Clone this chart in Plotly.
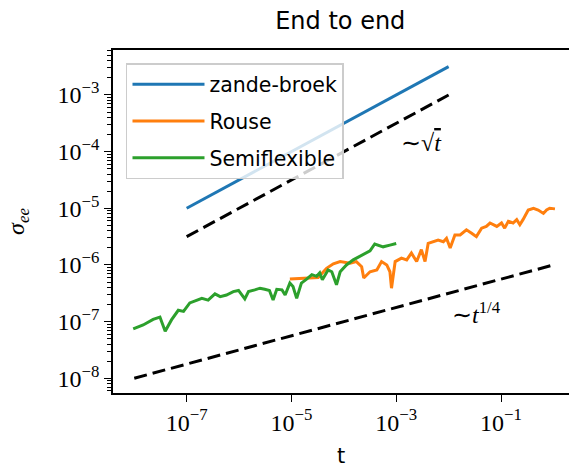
import plotly.graph_objects as go

# ---- data (noisy curves stored as log10 values) ----
zb_t = [1e-7, 1e-2]
zb_y = [1.0e-5, 3.16e-3]

sqrt_guide_t = [1e-7, 1e-2]
sqrt_guide_y = [3.16e-6, 1.0e-3]

quarter_guide_t = [1e-8, 1.0]
quarter_guide_y = [1e-8, 1e-6]

semi_log_t = [-8.02, -7.83, -7.64, -7.51, -7.41, -7.29, -7.16, -7.06, -6.94, -6.81,
              -6.71, -6.59, -6.46, -6.36, -6.24, -6.11, -6.01, -5.89, -5.82, -5.70,
              -5.60, -5.51, -5.42, -5.35, -5.28, -5.18, -5.12, -5.03, -4.97, -4.90,
              -4.81, -4.71, -4.61, -4.52, -4.46, -4.41, -4.30, -4.23, -4.14, -4.07,
              -3.95, -3.82, -3.63, -3.50, -3.41, -3.25, -3.12, -3.00]
semi_log_y = [-7.13, -7.06, -6.96, -6.92, -7.17, -6.97, -6.80, -6.82, -6.67, -6.63,
              -6.59, -6.62, -6.51, -6.56, -6.53, -6.47, -6.45, -6.60, -6.47, -6.44,
              -6.41, -6.43, -6.45, -6.62, -6.43, -6.44, -6.53, -6.32, -6.38, -6.59,
              -6.32, -6.25, -6.17, -6.20, -6.14, -6.26, -6.09, -6.12, -6.35, -6.12,
              -6.00, -5.91, -5.82, -5.75, -5.63, -5.68, -5.65, -5.62]

rouse_log_t = [-5.03, -4.49, -4.33, -4.20, -4.07, -3.88, -3.76, -3.66, -3.62, -3.50,
               -3.37, -3.28, -3.18, -3.12, -3.09, -3.02, -2.90, -2.80, -2.71, -2.61,
               -2.52, -2.45, -2.39, -2.29, -2.20, -2.10, -2.04, -1.97, -1.88, -1.78,
               -1.66, -1.56, -1.47, -1.37, -1.28, -1.21, -1.08, -0.99, -0.93, -0.86,
               -0.77, -0.70, -0.64, -0.58, -0.48, -0.38, -0.29, -0.19, -0.13, -0.07,
               0.03]
rouse_log_y = [-6.25, -6.22, -6.06, -5.98, -5.94, -5.97, -5.94, -6.03, -6.23, -6.12,
               -6.09, -5.94, -6.00, -6.12, -6.41, -5.94, -5.88, -5.91, -5.79, -5.94,
               -5.73, -5.94, -5.62, -5.59, -5.56, -5.59, -5.53, -5.70, -5.47, -5.47,
               -5.38, -5.44, -5.50, -5.35, -5.32, -5.26, -5.32, -5.26, -5.35, -5.23,
               -5.26, -5.20, -5.29, -5.20, -5.03, -5.00, -5.03, -5.09, -5.03, -5.00,
               -5.01]

semi_t = [10 ** v for v in semi_log_t]
semi_y = [10 ** v for v in semi_log_y]
rouse_t = [10 ** v for v in rouse_log_t]
rouse_y = [10 ** v for v in rouse_log_y]

y_tick_vals = [1e-8, 1e-7, 1e-6, 1e-5, 1e-4, 1e-3]
y_tick_text = ["10<sup>\u22128</sup>", "10<sup>\u22127</sup>", "10<sup>\u22126</sup>",
               "10<sup>\u22125</sup>", "10<sup>\u22124</sup>", "10<sup>\u22123</sup>"]
x_tick_vals = [1e-7, 1e-5, 1e-3, 1e-1]
x_tick_text = ["10<sup>\u22127</sup>", "10<sup>\u22125</sup>", "10<sup>\u22123</sup>",
               "10<sup>\u22121</sup>"]

y_minor = [m * 10.0 ** e for e in range(-9, -1) for m in range(2, 10)]

DASH = "13px,6px"
fig = go.Figure()
fig.add_trace(go.Scatter(x=zb_t, y=zb_y, mode="lines", name="zande-broek",
                         line=dict(color="#1f77b4", width=3), legendgroup="a"))
fig.add_trace(go.Scatter(x=sqrt_guide_t, y=sqrt_guide_y, mode="lines", showlegend=False,
                         line=dict(color="black", width=3, dash=DASH)))
fig.add_trace(go.Scatter(x=rouse_t, y=rouse_y, mode="lines", name="Rouse",
                         line=dict(color="#ff7f0e", width=3), legendgroup="b"))
fig.add_trace(go.Scatter(x=semi_t, y=semi_y, mode="lines", name="Semiflexible",
                         line=dict(color="#2ca02c", width=3), legendgroup="c"))
fig.add_trace(go.Scatter(x=quarter_guide_t, y=quarter_guide_y, mode="lines", showlegend=False,
                         line=dict(color="black", width=3, dash=DASH)))

serif = "Liberation Serif"
fig.update_layout(
    width=569, height=468,
    margin=dict(l=113, r=0, t=50, b=75),
    paper_bgcolor="white", plot_bgcolor="white",
    title=dict(text="End to end", x=0.598, xref="container", xanchor="center",
               y=0.955, yref="container", yanchor="middle",
               font=dict(family="DejaVu Sans", size=24, color="black")),
    xaxis=dict(type="log", range=[-8.406, 0.298], showgrid=False, zeroline=False,
               showline=True, linecolor="black", linewidth=1.5, mirror=True,
               ticks="outside", ticklen=7, tickwidth=1.3, tickcolor="black",
               tickmode="array", tickvals=x_tick_vals, ticktext=x_tick_text,
               tickfont=dict(family=serif, size=24, color="black"),
               title=dict(text="t", font=dict(family="DejaVu Sans", size=21, color="black"),
                          standoff=14)),
    yaxis=dict(type="log", range=[-8.26, -2.206], showgrid=False, zeroline=False,
               showline=True, linecolor="black", linewidth=1.5, mirror=False,
               ticks="outside", ticklen=7, tickwidth=1.3, tickcolor="black",
               tickmode="array", tickvals=y_tick_vals, ticktext=y_tick_text,
               tickfont=dict(family=serif, size=24, color="black"),
               minor=dict(tickmode="array", tickvals=y_minor, ticks="outside",
                          ticklen=4, tickwidth=1, tickcolor="black"),
               title=dict(text="<i>\u03c3</i><sub><i>ee</i></sub>",
                          font=dict(family=serif, size=24, color="black"), standoff=26)),
    legend=dict(x=0.0285, y=0.962, xanchor="left", yanchor="top",
                bgcolor="rgba(255,255,255,0.8)", bordercolor="#cccccc", borderwidth=1.5,
                font=dict(family="DejaVu Sans", size=20.5, color="black"),
                tracegroupgap=7, itemwidth=72),
    annotations=[
        dict(x=-2.51, y=-3.85, xref="x", yref="y", showarrow=False,
             text="\u223c\u221a<span style='text-decoration:overline'><i>t</i></span>",
             font=dict(family=serif, size=24, color="black")),
        dict(x=-1.46, y=-6.84, xref="x", yref="y", showarrow=False,
             text="\u223c<i>t</i><sup>1/4</sup>",
             font=dict(family=serif, size=24, color="black")),
    ],
)

fig.write_html("out.html")
